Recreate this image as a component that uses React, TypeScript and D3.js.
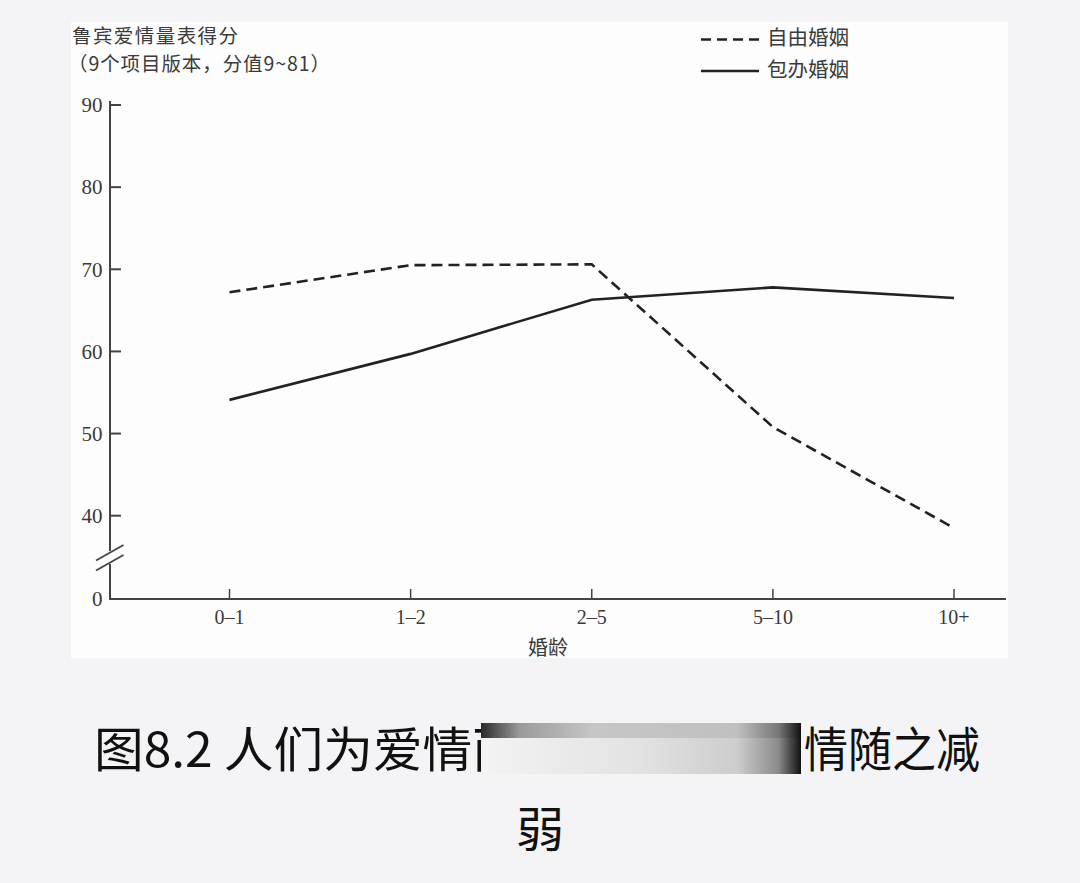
import React from "react";
import * as d3 from "d3";

const categories = ["0–1", "1–2", "2–5", "5–10", "10+"];
const freeMarriage = [67.2, 70.5, 70.6, 50.8, 38.5];
const arrangedMarriage = [54.1, 59.7, 66.3, 67.8, 66.5];
const yTicks = [40, 50, 60, 70, 80, 90];
const seriesNames = ["自由婚姻", "包办婚姻"];

const W = 1080;
const H = 883;

export default function App() {
  const x = d3.scalePoint<string>().domain(categories).range([229.5, 954]);
  const y = d3.scaleLinear().domain([40, 90]).range([515.7, 105]);
  const y0 = 599;
  const axisX = 110;
  const line = d3
    .line<number>()
    .x((_, i) => x(categories[i]) as number)
    .y((d) => y(d));

  const serif = "'Liberation Serif', 'Noto Sans CJK SC', serif";
  const cjk = "'Noto Sans CJK SC', 'Liberation Serif', serif";
  const textColor = "#3a3a3a";
  const axisColor = "#444";

  return (
    <svg
      width={W}
      height={H}
      style={{ position: "absolute", left: 0, top: 0, display: "block" }}
    >
      <defs>
        <linearGradient id="redact" x1="0" x2="1" y1="0" y2="0">
          <stop offset="0" stopColor="#f3f3f3" />
          <stop offset="0.5" stopColor="#e2e2e2" />
          <stop offset="0.8" stopColor="#cdcdcd" />
          <stop offset="0.93" stopColor="#8a8a8a" />
          <stop offset="1" stopColor="#111" />
        </linearGradient>
        <linearGradient id="redactTop" x1="0" x2="1" y1="0" y2="0">
          <stop offset="0" stopColor="#2a2a2a" />
          <stop offset="0.12" stopColor="#9a9a9a" />
          <stop offset="0.35" stopColor="#c6c6c6" />
          <stop offset="0.8" stopColor="#c0c0c0" />
          <stop offset="0.93" stopColor="#777" />
          <stop offset="1" stopColor="#111" />
        </linearGradient>
      </defs>
      <rect x={0} y={0} width={W} height={H} fill="#f4f4f6" />
      <rect x={71} y={22} width={937} height={636} fill="#fdfdfd" />

      {/* Title */}
      <text x={72} y={43} fontFamily={cjk} fontSize={19.5} fill={textColor} textLength={166} lengthAdjust="spacing">
        鲁宾爱情量表得分
      </text>
      <text
        x={68}
        y={71}
        fontFamily={cjk}
        fontSize={19.5}
        fill={textColor}
        textLength={262}
        lengthAdjust="spacing"
      >
        （9个项目版本，分值9~81）
      </text>

      {/* Legend */}
      <line x1={701} x2={759} y1={39.5} y2={39.5} stroke="#222" strokeWidth={2.5} strokeDasharray="10 6" />
      <text x={767} y={45} fontFamily={cjk} fontSize={20.5} fill={textColor}>
        {seriesNames[0]}
      </text>
      <line x1={701} x2={759} y1={71} y2={71} stroke="#222" strokeWidth={2.5} />
      <text x={767} y={77} fontFamily={cjk} fontSize={20.5} fill={textColor}>
        {seriesNames[1]}
      </text>

      {/* Y axis with break */}
      <line x1={axisX} x2={axisX} y1={101} y2={551} stroke={axisColor} strokeWidth={2} />
      <line x1={axisX} x2={axisX} y1={564} y2={y0 + 1} stroke={axisColor} strokeWidth={2} />
      <line x1={96} x2={123.5} y1={560.5} y2={545} stroke={axisColor} strokeWidth={1.8} />
      <line x1={96} x2={123.5} y1={570.5} y2={555} stroke={axisColor} strokeWidth={1.8} />
      {yTicks.map((t) => (
        <g key={t}>
          <line x1={axisX} x2={axisX + 11} y1={y(t)} y2={y(t)} stroke={axisColor} strokeWidth={2} />
          <text
            x={102.5}
            y={y(t)}
            dy="0.35em"
            textAnchor="end"
            fontFamily={serif}
            fontSize={21}
            fill={textColor}
          >
            {t}
          </text>
        </g>
      ))}
      <text x={102.5} y={y0} dy="0.35em" textAnchor="end" fontFamily={serif} fontSize={21} fill={textColor}>
        0
      </text>

      {/* X axis */}
      <line x1={axisX - 1} x2={1006} y1={y0} y2={y0} stroke={axisColor} strokeWidth={2} />
      {categories.map((c) => (
        <g key={c}>
          <line x1={x(c)} x2={x(c)} y1={y0} y2={y0 - 10} stroke={axisColor} strokeWidth={1.5} />
          <text
            x={x(c)}
            y={624}
            textAnchor="middle"
            fontFamily={serif}
            fontSize={20}
            fill={textColor}
          >
            {c}
          </text>
        </g>
      ))}
      <text x={548} y={655} textAnchor="middle" fontFamily={cjk} fontSize={20} fill={textColor}>
        婚龄
      </text>

      {/* Series */}
      <path d={line(freeMarriage) || ""} fill="none" stroke="#222" strokeWidth={2.6} strokeDasharray="11 6" />
      <path d={line(arrangedMarriage) || ""} fill="none" stroke="#222" strokeWidth={2.6} />

      {/* Caption */}
      <text
        x={94}
        y={767}
        fontFamily={cjk}
        fontSize={48}
        fill="#111"
        textLength={428}
        lengthAdjust="spacingAndGlyphs"
      >
        图8.2 人们为爱情而
      </text>
      <rect x={481} y={723} width={320} height={15} fill="url(#redactTop)" />
      <rect x={481} y={738} width={320} height={36} fill="url(#redact)" />
      <text
        x={804}
        y={767}
        fontFamily={cjk}
        fontSize={48}
        fill="#111"
        textLength={176}
        lengthAdjust="spacingAndGlyphs"
      >
        情随之减
      </text>
      <text x={540} y={847} textAnchor="middle" fontFamily={cjk} fontSize={48} fill="#111">
        弱
      </text>
    </svg>
  );
}
